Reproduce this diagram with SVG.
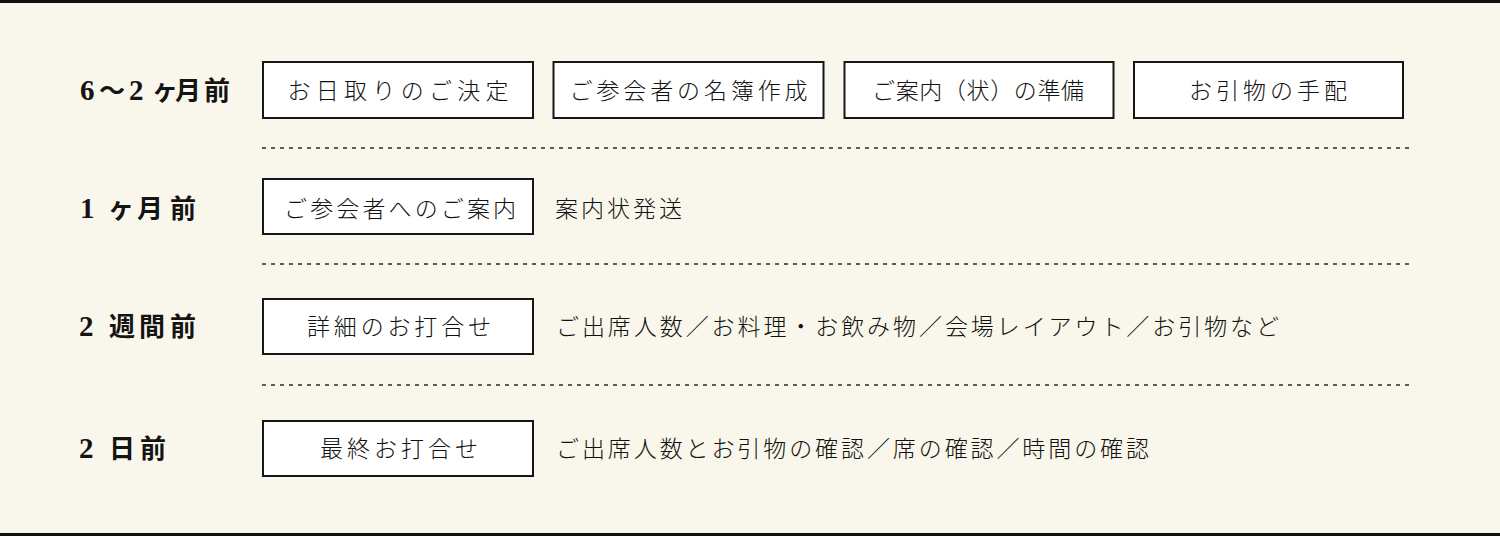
<svg xmlns="http://www.w3.org/2000/svg" width="1500" height="536" viewBox="0 0 1500 536">
  <style>
    .bg { fill: #f9f7eb; }
    .rule { fill: #111111; }
    .box { fill: #ffffff; stroke: #161616; stroke-width: 2; }
    .sep { stroke: #2a2a2a; stroke-width: 1.5; stroke-dasharray: 4 5; fill: none; }
    .lbl { font-family: "Liberation Serif", "Noto Sans CJK JP", serif; font-size: 26px; font-weight: 700; fill: #141414; }
    .dg { font-size: 29px; }
    .txt { font-family: "Noto Sans CJK JP", sans-serif; font-size: 23px; font-weight: 300; fill: #111111; }
    .mid { text-anchor: middle; }
  </style>
  <rect class="bg" x="0" y="0" width="1500" height="536"/>
  <rect class="rule" x="0" y="0" width="1500" height="3"/>
  <rect class="rule" x="0" y="533" width="1500" height="3"/>

  <g id="connectors">
    <line class="sep" x1="262" y1="148" x2="1410" y2="148"/>
    <line class="sep" x1="262" y1="264" x2="1410" y2="264"/>
    <line class="sep" x1="262" y1="385" x2="1410" y2="385"/>
  </g>

  <g id="label-6-2months">
    <text class="lbl" y="100"><tspan class="dg" x="80">6</tspan><tspan x="99">～</tspan><tspan class="dg" x="129">2</tspan><tspan x="152">ヶ</tspan><tspan x="175">月</tspan><tspan x="204">前</tspan></text>
  </g>
  <g id="node-hidori">
    <rect class="box" x="263" y="62" width="270" height="56"/>
    <text class="txt mid" x="398" y="98.5" textLength="221" lengthAdjust="spacing">お日取りのご決定</text>
  </g>
  <g id="node-meibo">
    <rect class="box" x="553.5" y="62" width="270" height="56"/>
    <text class="txt mid" x="688.5" y="98.5" textLength="238" lengthAdjust="spacing">ご参会者の名簿作成</text>
  </g>
  <g id="node-annai-junbi">
    <rect class="box" x="844.5" y="62" width="269" height="56"/>
    <text class="txt mid" x="978" y="98.5" textLength="212" lengthAdjust="spacing">ご案内（状）の準備</text>
  </g>
  <g id="node-hikimono">
    <rect class="box" x="1134" y="62" width="269" height="56"/>
    <text class="txt mid" x="1268" y="98.5" textLength="158" lengthAdjust="spacing">お引物の手配</text>
  </g>

  <g id="label-1month">
    <text class="lbl" y="218"><tspan class="dg" x="80">1</tspan><tspan x="108">ヶ</tspan><tspan x="137">月</tspan><tspan x="170">前</tspan></text>
  </g>
  <g id="node-annai">
    <rect class="box" x="263" y="179" width="270" height="55"/>
    <text class="txt mid" x="400" y="216.5" textLength="232" lengthAdjust="spacing">ご参会者へのご案内</text>
  </g>
  <g id="note-1month">
    <text class="txt" x="555" y="216.5" textLength="127" lengthAdjust="spacing">案内状発送</text>
  </g>

  <g id="label-2weeks">
    <text class="lbl" y="336"><tspan class="dg" x="79">2</tspan><tspan x="109">週</tspan><tspan x="139">間</tspan><tspan x="170">前</tspan></text>
  </g>
  <g id="node-shosai">
    <rect class="box" x="263" y="299" width="270" height="55"/>
    <text class="txt mid" x="399" y="334.5" textLength="184" lengthAdjust="spacing">詳細のお打合せ</text>
  </g>
  <g id="note-2weeks">
    <text class="txt" x="556" y="334.5" textLength="723" lengthAdjust="spacing">ご出席人数／お料理・お飲み物／会場レイアウト／お引物など</text>
  </g>

  <g id="label-2days">
    <text class="lbl" y="458"><tspan class="dg" x="79">2</tspan><tspan x="109">日</tspan><tspan x="140">前</tspan></text>
  </g>
  <g id="node-saishu">
    <rect class="box" x="263" y="421" width="270" height="55"/>
    <text class="txt mid" x="399" y="456.5" textLength="158" lengthAdjust="spacing">最終お打合せ</text>
  </g>
  <g id="note-2days">
    <text class="txt" x="556" y="456.5" textLength="593" lengthAdjust="spacing">ご出席人数とお引物の確認／席の確認／時間の確認</text>
  </g>
</svg>
